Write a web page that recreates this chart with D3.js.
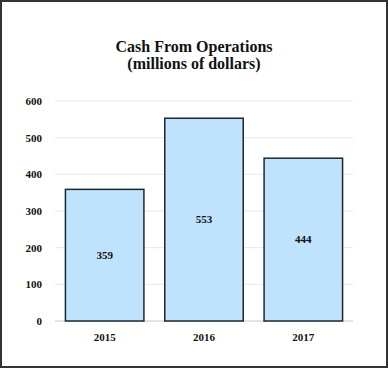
<!DOCTYPE html>
<html>
<head>
<meta charset="utf-8">
<script src="https://cdn.jsdelivr.net/npm/d3@7"></script>
<style>
  html, body { margin: 0; padding: 0; background: #fff; }
  svg { display: block; }
  text { font-family: "Liberation Serif", "Times New Roman", serif; fill: #111; }
</style>
</head>
<body>
<svg width="388" height="368"></svg>
<script>
const years = ["2015", "2016", "2017"];
const cash = [359, 553, 444];
const yTicks = [0, 100, 200, 300, 400, 500, 600];
const titleLines = ["Cash From Operations", "(millions of dollars)"];

const svg = d3.select("svg"),
    width = +svg.attr("width"),
    height = +svg.attr("height"),
    margin = {top: 101, right: 35, bottom: 47, left: 55};

// frame
svg.append("rect")
    .attr("x", 1).attr("y", 1)
    .attr("width", width - 2).attr("height", height - 2)
    .attr("fill", "#fff")
    .attr("stroke", "#333")
    .attr("stroke-width", 2);

svg.selectAll(".title")
    .data(titleLines)
    .enter().append("text")
    .attr("class", "title")
    .attr("x", width / 2)
    .attr("y", (d, i) => 52 + i * 17)
    .attr("text-anchor", "middle")
    .style("font-size", "16px")
    .style("font-weight", "bold")
    .text(d => d);

const x = d3.scaleBand()
    .domain(years)
    .range([margin.left, width - margin.right])
    .paddingInner(0.21)
    .paddingOuter(0.105);

const y = d3.scaleLinear()
    .domain([0, 600])
    .range([height - margin.bottom, margin.top]);

// grid
svg.append("g")
    .selectAll("line")
    .data(yTicks)
    .enter().append("line")
    .attr("x1", margin.left)
    .attr("x2", width - margin.right)
    .attr("y1", d => y(d))
    .attr("y2", d => y(d))
    .attr("stroke", d => d === 0 ? "#c8c8c8" : "#e6e6e6")
    .attr("stroke-width", 1);

// y labels
svg.append("g")
    .selectAll("text")
    .data(yTicks)
    .enter().append("text")
    .attr("x", 42)
    .attr("y", d => y(d))
    .attr("dy", "0.35em")
    .attr("text-anchor", "end")
    .style("font-size", "11px")
    .style("font-weight", "bold")
    .text(d => d);

// bars
svg.append("g")
    .selectAll("rect")
    .data(years)
    .enter().append("rect")
    .attr("x", d => x(d))
    .attr("y", (d, i) => y(cash[i]))
    .attr("width", x.bandwidth())
    .attr("height", (d, i) => y(0) - y(cash[i]))
    .attr("fill", "#bfe3fc")
    .attr("stroke", "#1c2830")
    .attr("stroke-width", 1.5);

// value labels
svg.append("g")
    .selectAll("text")
    .data(years)
    .enter().append("text")
    .attr("x", d => x(d) + x.bandwidth() / 2)
    .attr("y", (d, i) => y(cash[i] / 2))
    .attr("dy", "0.35em")
    .attr("text-anchor", "middle")
    .style("font-size", "11px")
    .style("font-weight", "bold")
    .text((d, i) => cash[i]);

// x labels
svg.append("g")
    .selectAll("text")
    .data(years)
    .enter().append("text")
    .attr("x", d => x(d) + x.bandwidth() / 2)
    .attr("y", 337)
    .attr("dy", "0.35em")
    .attr("text-anchor", "middle")
    .style("font-size", "11px")
    .style("font-weight", "bold")
    .text(d => d);
</script>
</body>
</html>
